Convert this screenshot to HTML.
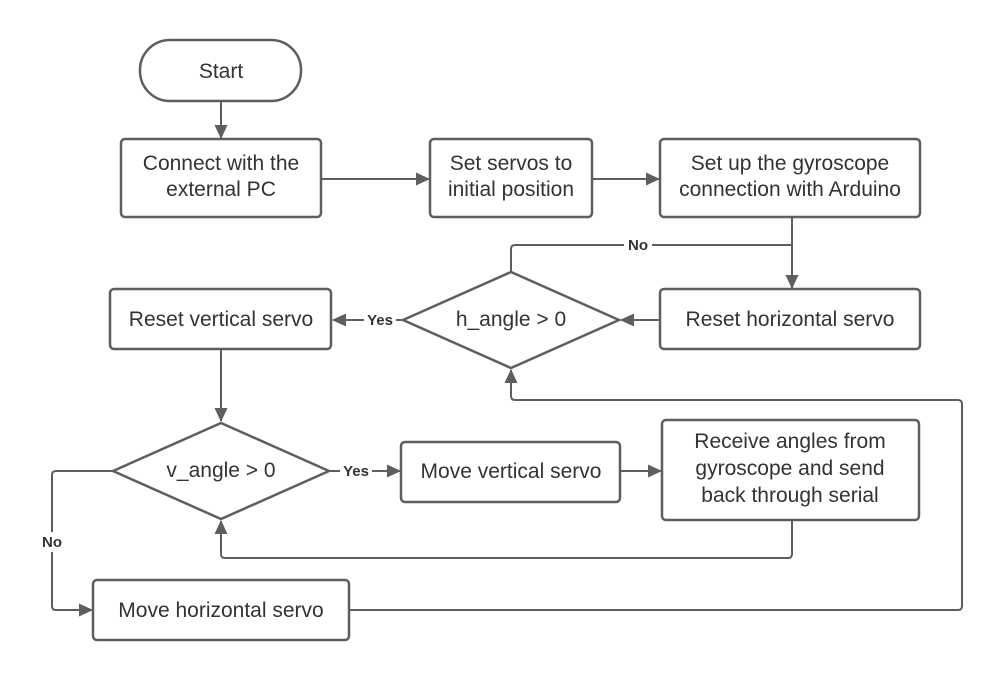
<!DOCTYPE html>
<html><head><meta charset="utf-8"><style>
html,body{margin:0;padding:0;background:#fff;}
svg{display:block;}
text{font-family:"Liberation Sans",sans-serif;fill:#333;}
</style></head><body>
<svg width="1002" height="680" viewBox="0 0 1002 680">
<defs><marker id="a" markerWidth="14" markerHeight="14" refX="13" refY="6.5" orient="auto" markerUnits="userSpaceOnUse"><path d="M0,0 L14,6.5 L0,13 z" fill="#5e5e5e"/></marker></defs>
<g fill="none" stroke="#5e5e5e" stroke-width="2.5">
<rect x="140" y="40" width="161" height="61" rx="30"/>
<rect x="121" y="139" width="200" height="78" rx="4"/>
<rect x="430" y="139" width="162" height="78" rx="4"/>
<rect x="660" y="139" width="260" height="78" rx="4"/>
<rect x="110" y="289" width="221" height="60" rx="4"/>
<rect x="660" y="289" width="260" height="60" rx="4"/>
<path d="M403,320 L511,272 L619,320 L511,368 Z"/>
<path d="M113,471 L221,423 L329,471 L221,519 Z"/>
<rect x="401" y="442" width="219" height="60" rx="4"/>
<rect x="662" y="420" width="257" height="100" rx="4"/>
<rect x="93" y="580" width="256" height="60" rx="4"/>
</g>
<g fill="none" stroke="#5e5e5e" stroke-width="2">
<path d="M221,101 V138" marker-end="url(#a)"/>
<path d="M321,179 H429" marker-end="url(#a)"/>
<path d="M592,179 H659" marker-end="url(#a)"/>
<path d="M792,217 V288" marker-end="url(#a)"/>
<path d="M511,272 V249 Q511,245 515,245 H792"/>
<path d="M660,320 H621" marker-end="url(#a)"/>
<path d="M403,320 H333" marker-end="url(#a)"/>
<path d="M221,349 V421" marker-end="url(#a)"/>
<path d="M329,471 H400" marker-end="url(#a)"/>
<path d="M620,471 H661" marker-end="url(#a)"/>
<path d="M792,520 V554 Q792,558 788,558 H225 Q221,558 221,554 V521" marker-end="url(#a)"/>
<path d="M113,471 H56 Q52,471 52,475 V606 Q52,610 56,610 H92" marker-end="url(#a)"/>
<path d="M349,610 H958 Q962,610 962,606 V404 Q962,400 958,400 H515 Q511,400 511,396 V370" marker-end="url(#a)"/>
</g>
<g fill="#fff"><rect x="624" y="236" width="28" height="18"/><rect x="364" y="311" width="32" height="18"/><rect x="340" y="462" width="32" height="18"/><rect x="39" y="532" width="26" height="20"/></g>
<g font-size="15" font-weight="bold" text-anchor="middle">
<text x="638" y="250">No</text>
<text x="380" y="325">Yes</text>
<text x="356" y="476">Yes</text>
<text x="52" y="547">No</text>
</g>
<g font-size="21" text-anchor="middle">
<text x="221" y="78">Start</text>
<text x="221" y="170">Connect with the</text>
<text x="221" y="196">external PC</text>
<text x="511" y="170">Set servos to</text>
<text x="511" y="196">initial position</text>
<text x="790" y="170">Set up the gyroscope</text>
<text x="790" y="196">connection with Arduino</text>
<text x="221" y="326">Reset vertical servo</text>
<text x="511" y="326">h_angle &gt; 0</text>
<text x="790" y="326">Reset horizontal servo</text>
<text x="221" y="477">v_angle &gt; 0</text>
<text x="511" y="478">Move vertical servo</text>
<text x="790" y="448">Receive angles from</text>
<text x="790" y="475">gyroscope and send</text>
<text x="790" y="502">back through serial</text>
<text x="221" y="617">Move horizontal servo</text>
</g>
</svg>
</body></html>
